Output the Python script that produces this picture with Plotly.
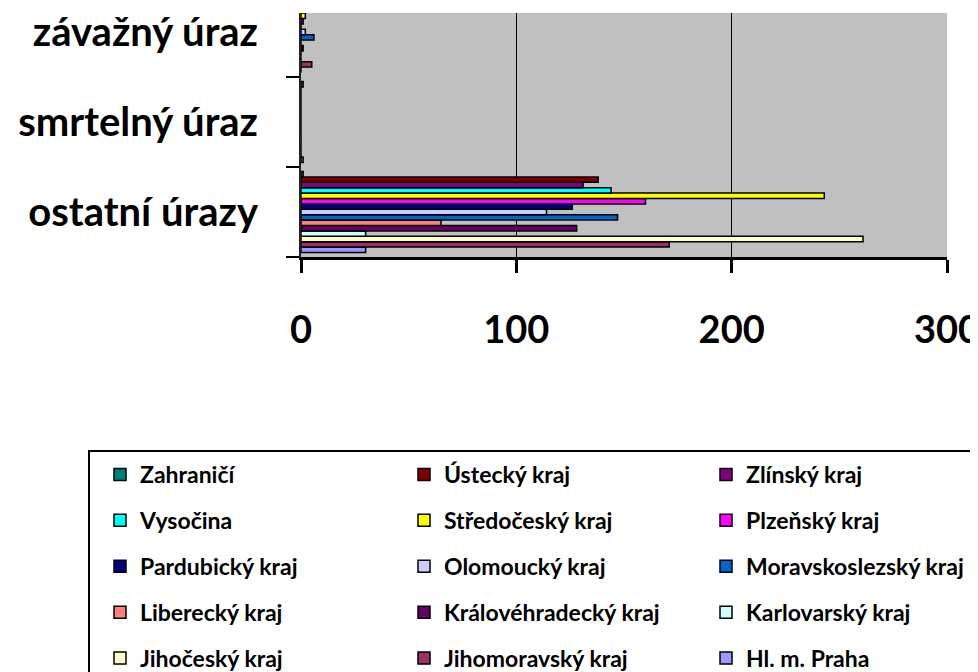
import plotly.graph_objects as go

categories = ["ostatní úrazy", "smrtelný úraz", "závažný úraz"]

# series in drawing order (bottom bar first)
series_names = [
    "Hl. m. Praha", "Jihomoravský kraj", "Jihočeský kraj", "Karlovarský kraj",
    "Královéhradecký kraj", "Liberecký kraj", "Moravskoslezský kraj",
    "Olomoucký kraj", "Pardubický kraj", "Plzeňský kraj", "Středočeský kraj",
    "Vysočina", "Zlínský kraj", "Ústecký kraj", "Zahraničí",
]
series_colors = [
    "#9999FF", "#993366", "#FFFFCC", "#CCFFFF", "#660066", "#FF8080",
    "#0066CC", "#CCCCFF", "#000080", "#FF00FF", "#FFFF00", "#00FFFF",
    "#800080", "#800000", "#008080",
]
# values: [ostatní úrazy, smrtelný úraz, závažný úraz]
praha = [30, 1, 0]
jihomoravsky = [171, 0, 5]
jihocesky = [261, 0, 0]
karlovarsky = [30, 0, 0]
kralovehradecky = [128, 0, 1]
liberecky = [65, 0, 0]
moravskoslezsky = [147, 0, 6]
olomoucky = [114, 0, 2]
pardubicky = [126, 0, 0]
plzensky = [160, 0, 1]
stredocesky = [243, 0, 2]
vysocina = [144, 0, 0]
zlinsky = [131, 0, 0]
ustecky = [138, 0, 0]
zahranici = [1, 1, 0]

series_values = [
    praha, jihomoravsky, jihocesky, karlovarsky, kralovehradecky, liberecky,
    moravskoslezsky, olomoucky, pardubicky, plzensky, stredocesky, vysocina,
    zlinsky, ustecky, zahranici,
]
x_ticks = [0, 100, 200, 300]

FONT = "Lato"

fig = go.Figure()
n = len(series_names)
for i, (name, col, vals) in enumerate(zip(series_names, series_colors, series_values)):
    r = n - 1 - i
    leg = ["legend", "legend2", "legend3"][r % 3]
    fig.add_trace(go.Bar(
        y=categories, x=vals, name=name, orientation="h",
        marker=dict(color=col, line=dict(color="black", width=1.5)),
        legend=leg, legendgroup=name, legendrank=r + 1,
    ))

W, H = 978, 672
OFF = 8  # page body margin
# plot area in page pixels
L, R, T, B = 301, 947, 13, 257
pw, ph = R - L, B - T

def px_x(v):
    return (v - L) / pw

def px_y(v):
    return (B - v) / ph

leg_font = dict(family=FONT, size=23, color="black", weight="bold")
leg_common = dict(
    orientation="v", traceorder="grouped", tracegroupgap=13,
    font=leg_font, bgcolor="rgba(0,0,0,0)", borderwidth=0,
    xanchor="left", yanchor="bottom", y=px_y(H + OFF),
)

fig.update_layout(
    width=W, height=H,
    margin=dict(l=L - OFF, r=W - (R - OFF), t=T - OFF, b=H - (B - OFF), autoexpand=False),
    paper_bgcolor="white", plot_bgcolor="#C0C0C0",
    barmode="group", bargap=0.1, bargroupgap=0,
    showlegend=True,
    legend=dict(x=px_x(100), **leg_common),
    legend2=dict(x=px_x(404), **leg_common),
    legend3=dict(x=px_x(706), **leg_common),
    xaxis=dict(
        range=[0, 300], tickvals=x_ticks, showgrid=True, gridcolor="black", gridwidth=1,
        showline=True, linecolor="black", linewidth=3,
        ticks="outside", ticklen=13, tickwidth=3, tickcolor="black",
        ticklabelstandoff=24, zeroline=False, ticklabeloverflow="allow",
        tickfont=dict(family=FONT, size=38, color="black", weight="bold"),
    ),
    yaxis=dict(
        type="category", categoryorder="array", categoryarray=categories,
        range=[-0.5, -0.5 + ph / 90.0], tickson="boundaries",
        showgrid=False, showline=True, linecolor="#202020", linewidth=2,
        ticks="outside", ticklen=13, tickwidth=2, tickcolor="black",
        ticklabelstandoff=33,
        tickfont=dict(family=FONT, size=40, color="black", weight="bold"),
    ),
    shapes=[dict(
        type="rect", xref="paper", yref="paper",
        x0=px_x(89), x1=px_x(1000), y0=px_y(451), y1=px_y(700),
        line=dict(color="black", width=2), fillcolor="rgba(0,0,0,0)",
    )],
)

fig.write_html("out.html")
